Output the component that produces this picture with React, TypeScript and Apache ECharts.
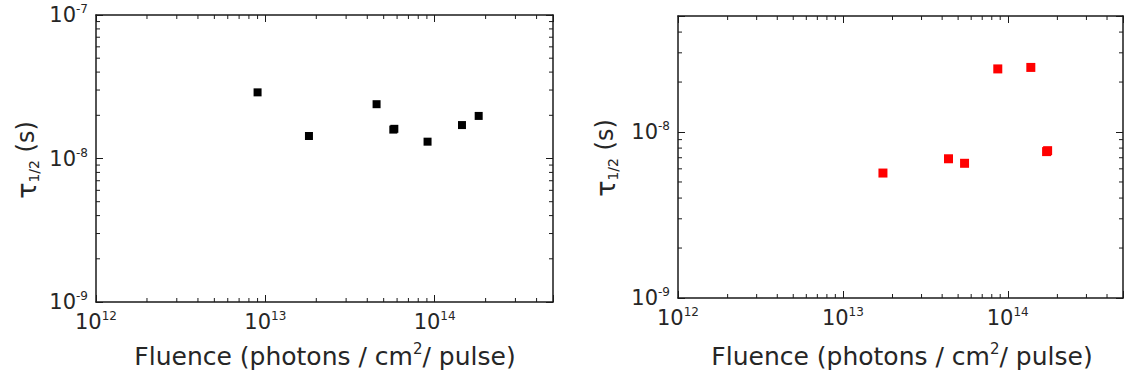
import React, { useEffect, useRef } from 'react';
import * as echarts from 'echarts';

// ---- data ----
const fluenceA = [9.0e12, 1.81e13, 4.54e13, 5.7e13, 5.78e13, 9.08e13, 1.45e14, 1.82e14];
const tauA = [2.89e-8, 1.435e-8, 2.39e-8, 1.59e-8, 1.61e-8, 1.31e-8, 1.71e-8, 1.98e-8];

const fluenceB = [1.75e13, 4.37e13, 5.47e13, 8.7e13, 1.38e14, 1.72e14, 1.745e14];
const tauB = [5.66e-9, 6.9e-9, 6.48e-9, 2.4e-8, 2.45e-8, 7.62e-9, 7.72e-9];

// axis ranges
const X_MIN = 1e12;
const X_MAX = 5e14;
const YA_MIN = 1e-9;
const YA_MAX = 1e-7;
const YB_MIN = 1e-9;
const YB_MAX = 5e-8;

// minor tick values (log axes)
const xMinorTicks = [
  2e12, 3e12, 4e12, 5e12, 6e12, 7e12, 8e12, 9e12,
  2e13, 3e13, 4e13, 5e13, 6e13, 7e13, 8e13, 9e13,
  2e14, 3e14, 4e14,
];
const yMinorTicksA = [
  2e-9, 3e-9, 4e-9, 5e-9, 6e-9, 7e-9, 8e-9, 9e-9,
  2e-8, 3e-8, 4e-8, 5e-8, 6e-8, 7e-8, 8e-8, 9e-8,
];
const yMinorTicksB = [
  2e-9, 3e-9, 4e-9, 5e-9, 6e-9, 7e-9, 8e-9, 9e-9,
  2e-8, 3e-8, 4e-8,
];

const FONT = '"DejaVu Sans", "Noto Sans", sans-serif';
const TXT = '#262626';
const LINE = '#1a1a1a';

function powLabel(value: number): string {
  const e = Math.round(Math.log10(value));
  if (Math.abs(value / Math.pow(10, e) - 1) > 1e-6) return '';
  return `{b|10}{s|${e}}`;
}

const labelRich = {
  b: { fontSize: 21, fontFamily: FONT, color: TXT, lineHeight: 24 },
  s: { fontSize: 12, fontFamily: FONT, color: TXT, lineHeight: 12, verticalAlign: 'top' },
};

function xAxes(gridIndex: number) {
  const base = {
    type: 'log',
    logBase: 10,
    min: X_MIN,
    max: X_MAX,
    gridIndex,
    splitLine: { show: false },
    axisLine: { show: true, onZero: false, lineStyle: { color: LINE, width: 1.5 } },
    axisTick: { show: true, inside: true, length: 7, lineStyle: { color: LINE, width: 1 } },
  };
  return [
    {
      ...base,
      position: 'bottom',
      axisLabel: { show: true, margin: 8, formatter: powLabel, rich: labelRich, showMaxLabel: true },
    },
    { ...base, position: 'top', axisLabel: { show: false } },
  ];
}

function yAxes(gridIndex: number, min: number, max: number) {
  const base = {
    type: 'log',
    logBase: 10,
    min,
    max,
    gridIndex,
    splitLine: { show: false },
    axisLine: { show: true, onZero: false, lineStyle: { color: LINE, width: 1.5 } },
    axisTick: { show: true, inside: true, length: 7, lineStyle: { color: LINE, width: 1 } },
  };
  return [
    {
      ...base,
      position: 'left',
      axisLabel: { show: true, margin: 8, formatter: powLabel, rich: labelRich },
    },
    { ...base, position: 'right', axisLabel: { show: false } },
  ];
}

function minorX(xAxisIndex: number, yAxisIndex: number, yRef: number) {
  return {
    type: 'custom',
    xAxisIndex,
    yAxisIndex,
    silent: true,
    data: xMinorTicks.map((v) => [v, yRef]),
    renderItem: (params: any, api: any) => {
      const p = api.coord([api.value(0), api.value(1)]);
      const cs = params.coordSys;
      const x = p[0];
      const b = cs.y + cs.height;
      const t = cs.y;
      const st = { stroke: LINE, lineWidth: 1 };
      return {
        type: 'group',
        children: [
          { type: 'line', shape: { x1: x, y1: b, x2: x, y2: b - 4 }, style: st },
          { type: 'line', shape: { x1: x, y1: t, x2: x, y2: t + 4 }, style: st },
        ],
      };
    },
  };
}

function minorY(xAxisIndex: number, yAxisIndex: number, ticks: number[]) {
  return {
    type: 'custom',
    xAxisIndex,
    yAxisIndex,
    silent: true,
    data: ticks.map((v) => [X_MIN, v]),
    renderItem: (params: any, api: any) => {
      const p = api.coord([api.value(0), api.value(1)]);
      const cs = params.coordSys;
      const y = p[1];
      const l = cs.x;
      const r = cs.x + cs.width;
      const st = { stroke: LINE, lineWidth: 1 };
      return {
        type: 'group',
        children: [
          { type: 'line', shape: { x1: l, y1: y, x2: l + 4, y2: y }, style: st },
          { type: 'line', shape: { x1: r, y1: y, x2: r - 4, y2: y }, style: st },
        ],
      };
    },
  };
}

const xTitleRich = {
  t: { fontSize: 25, fontFamily: FONT, fill: TXT, color: TXT, lineHeight: 30 },
  sup: { fontSize: 15, fontFamily: FONT, fill: TXT, color: TXT, lineHeight: 15, verticalAlign: 'top' },
};
const yTitleRich = {
  g: { fontSize: 27, fontFamily: FONT, fill: TXT, color: TXT, lineHeight: 30 },
  sub: { fontSize: 14, fontFamily: FONT, fill: TXT, color: TXT, lineHeight: 14, verticalAlign: 'bottom' },
  t: { fontSize: 24, fontFamily: FONT, fill: TXT, color: TXT, lineHeight: 30 },
};

function xTitle(cx: number, cy: number) {
  return {
    type: 'text',
    x: cx,
    y: cy,
    style: {
      text: '{t|Fluence (photons / cm}{sup|2}{t|/ pulse)}',
      rich: xTitleRich,
      align: 'center',
      verticalAlign: 'middle',
    },
  };
}

function yTitle(cx: number, cy: number) {
  return {
    type: 'text',
    x: cx,
    y: cy,
    rotation: Math.PI / 2,
    style: {
      text: '{g|τ}{sub|1/2}{t| (s)}',
      rich: yTitleRich,
      align: 'center',
      verticalAlign: 'middle',
    },
  };
}

export default function App() {
  const ref = useRef<HTMLDivElement>(null);

  useEffect(() => {
    if (!ref.current) return;
    const chart = echarts.init(ref.current, undefined, { renderer: 'svg' });
    chart.setOption({
      animation: false,
      backgroundColor: '#ffffff',
      grid: [
        { left: 96, top: 15, width: 457, height: 287 },
        { left: 678, top: 16, width: 447, height: 282 },
      ],
      xAxis: [...xAxes(0), ...xAxes(1)],
      yAxis: [...yAxes(0, YA_MIN, YA_MAX), ...yAxes(1, YB_MIN, YB_MAX)],
      series: [
        minorX(0, 0, YA_MIN),
        minorY(0, 0, yMinorTicksA),
        minorX(2, 2, YB_MIN),
        minorY(2, 2, yMinorTicksB),
        {
          type: 'scatter',
          xAxisIndex: 0,
          yAxisIndex: 0,
          symbol: 'rect',
          symbolSize: 8,
          itemStyle: { color: '#000000', opacity: 1 },
          data: fluenceA.map((f, i) => [f, tauA[i]]),
        },
        {
          type: 'scatter',
          xAxisIndex: 2,
          yAxisIndex: 2,
          symbol: 'rect',
          symbolSize: 9,
          itemStyle: { color: '#ff0000', opacity: 1 },
          data: fluenceB.map((f, i) => [f, tauB[i]]),
        },
      ],
      graphic: [xTitle(325, 356), xTitle(902, 356), yTitle(26, 160), yTitle(605, 158)],
    });
    return () => chart.dispose();
  }, []);

  return (
    <div
      ref={ref}
      style={{ position: 'fixed', left: 0, top: 0, width: 1126, height: 381, background: '#fff' }}
    />
  );
}
